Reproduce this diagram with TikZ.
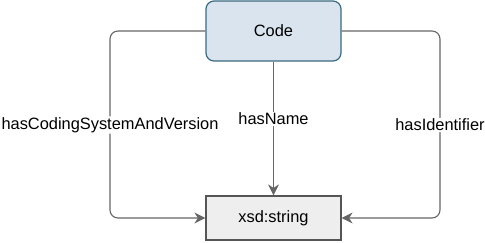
\documentclass[tikz,border=0pt]{standalone}
\usepackage{fontspec}
\setmainfont{Liberation Sans}
\usetikzlibrary{arrows.meta}
\definecolor{codefill}{HTML}{DAE4EE}
\definecolor{codeline}{HTML}{3A6A80}
\definecolor{strfill}{HTML}{EEEEEE}
\definecolor{strline}{HTML}{555555}
\definecolor{edgecol}{HTML}{666666}
\begin{document}
\begin{tikzpicture}[x=1pt,y=-1pt,
  font=\fontsize{16.4pt}{19pt}\selectfont,
  classbox/.style={draw=codeline,fill=codefill,line width=1.2pt,rounded corners=8pt,
    minimum width=135pt,minimum height=60pt,inner sep=0pt},
  typebox/.style={draw=strline,fill=strfill,line width=1.2pt,
    minimum width=135pt,minimum height=44pt,inner sep=0pt},
  rel/.style={draw=edgecol,line width=1.1pt,rounded corners=8pt,
    -{Stealth[length=11pt,width=11pt,inset=3.5pt]}},
  edgelabel/.style={fill=white,inner sep=1pt}]
\useasboundingbox (0,0) rectangle (485,242);
\node[classbox] (code) at (273.5,31) {Code};
\node[typebox] (str) at (273.5,218) {xsd:string};
\draw[rel] (code.west) -| (110,125) node[edgelabel] {hasCodingSystemAndVersion} |- (str.west);
\draw[rel] (code.east) -| (440,125) node[edgelabel] {hasIdentifier} |- (str.east);
\draw[rel] (code.south) -- node[edgelabel,pos=0.43] {hasName} (str.north);
\end{tikzpicture}
\end{document}
